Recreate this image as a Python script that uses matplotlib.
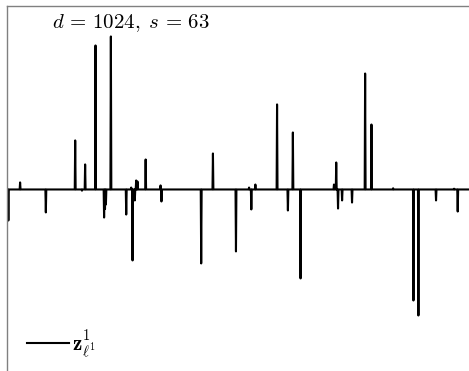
import matplotlib
matplotlib.use("Agg")
import matplotlib.pyplot as plt
import numpy as np

plt.rcParams['mathtext.fontset'] = 'cm'

d = 1024
s = 63

# nonzero entries of the recovered vector
pos_idx = [29, 151, 173, 196, 230, 275, 286, 289, 307, 340, 456, 536, 550,
           598, 633, 724, 729, 793, 807, 855, 990]
pos_val = [0.047, 0.327, 0.167, 0.96, 1.02, 0.013, 0.06, 0.053, 0.2, 0.027,
           0.24, 0.013, 0.033, 0.567, 0.38, 0.033, 0.18, 0.773, 0.433, 0.008,
           0.005]
neg_idx = [3, 86, 166, 215, 217, 219, 264, 278, 283, 342, 430, 507, 541,
           622, 650, 733, 742, 764, 900, 911, 950, 998]
neg_val = [-0.207, -0.153, -0.008, -0.187, -0.13, -0.1, -0.167, -0.473,
           -0.073, -0.08, -0.493, -0.413, -0.133, -0.14, -0.593, -0.127,
           -0.073, -0.087, -0.74, -0.84, -0.073, -0.147]

z = np.zeros(d)
z[pos_idx] = pos_val
z[neg_idx] = neg_val

fig = plt.figure(figsize=(4.69, 3.71), dpi=100)
ax = fig.add_axes([7/469, 0, 462/469, 365/371])
ax.plot(np.arange(d), z, color='k', lw=1.5, label=r'$\mathbf{z}^{\mathbf{1}}_{\ell^1}$')
ax.set_xlim(0, d - 1)
ax.set_ylim(-1.21, 1.223)
ax.set_xticks([])
ax.set_yticks([])
for side in ['right', 'bottom']:
    ax.spines[side].set_visible(False)
for side in ['left', 'top']:
    ax.spines[side].set_color('0.5')
    ax.spines[side].set_linewidth(1.0)

fig.text(131/469, 1 - 23/371, r'$d\,=\,1024,\;s\,=\,%d$' % s, ha='center', va='center',
         fontsize=15)
ax.legend(loc='center left', frameon=False, fontsize=15, handlelength=2.0,
          handletextpad=0.15, borderaxespad=0,
          bbox_to_anchor=(12/462, (371 - 344)/365))
fig.savefig('out.png', dpi=100)
